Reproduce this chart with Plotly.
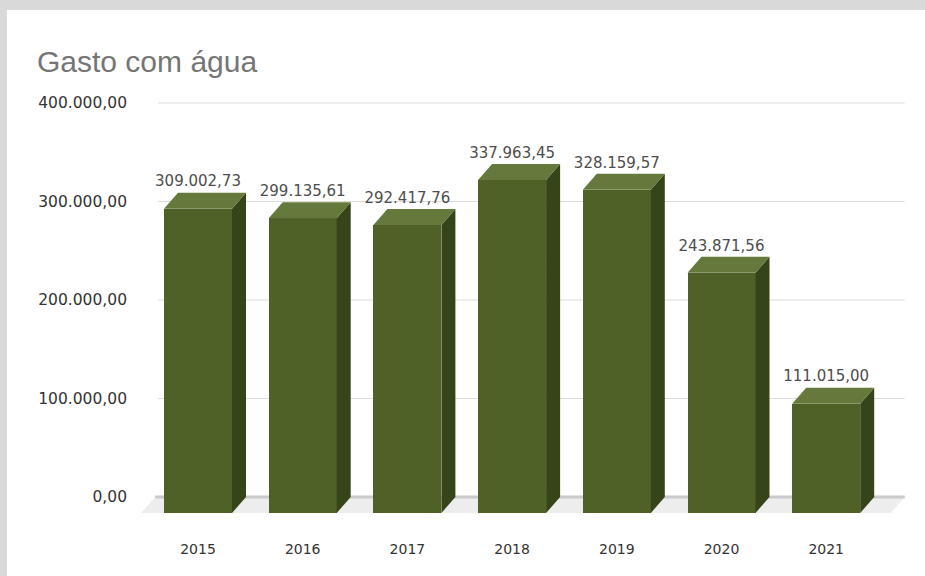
import plotly.graph_objects as go

# ---------------- data ----------------
years = ["2015", "2016", "2017", "2018", "2019", "2020", "2021"]
values = [309002.73, 299135.61, 292417.76, 337963.45, 328159.57, 243871.56, 111015.00]
value_labels = ["309.002,73", "299.135,61", "292.417,76", "337.963,45",
                "328.159,57", "243.871,56", "111.015,00"]
y_ticks = [0, 100000, 200000, 300000, 400000]
y_tick_labels = ["0,00", "100.000,00", "200.000,00", "300.000,00", "400.000,00"]

# ---------------- styling / geometry ----------------
W, H = 925, 576
ML, MR, MT = 138, 18, 90
PLOT_BOTTOM_PX = 535
MB = H - PLOT_BOTTOM_PX
PX_CAT = 104.7          # pixels per category
X0_PX = 198             # pixel centre of first category (front face)
PX_VAL = 0.000985       # pixels per value unit
Y0_PX = 497             # pixel of value 0 on back plane

plot_w = W - ML - MR
plot_h = H - MT - MB
x_range = [(ML - X0_PX) / PX_CAT, (W - MR - X0_PX) / PX_CAT]
y_range = [(Y0_PX - PLOT_BOTTOM_PX) / PX_VAL, (Y0_PX - MT) / PX_VAL]

DX = 14 / PX_CAT        # depth offset in category units
DY = 16 / PX_VAL        # depth offset in value units
BW = 68 / PX_CAT        # bar width
LBL_OFF = 10 / PX_VAL

FRONT = "#4f6127"
TOP = "#66793d"
SIDE = "#36441a"
PAGE_GREY = "#d9d9d9"


def px_x(p):  # pixel -> paper x
    return (p - ML) / plot_w


def px_y(p):  # pixel -> paper y
    return (PLOT_BOTTOM_PX - p) / plot_h


xs = list(range(len(years)))

fig = go.Figure()

# front faces
fig.add_trace(go.Bar(
    x=xs, y=values, base=[-DY] * len(values), width=BW,
    marker=dict(color=FRONT, line=dict(width=0)),
    hoverinfo="skip", showlegend=False,
))

# side and top faces
side_x, side_y, top_x, top_y = [], [], [], []
for i, v in zip(xs, values):
    r = i + BW / 2
    l = i - BW / 2
    side_x += [r, r + DX, r + DX, r, r, None]
    side_y += [-DY, 0, v, v - DY, -DY, None]
    top_x += [l, r, r + DX, l + DX, l, None]
    top_y += [v - DY, v - DY, v, v, v - DY, None]

fig.add_trace(go.Scatter(x=side_x, y=side_y, mode="lines", fill="toself",
                         fillcolor=SIDE, line=dict(width=0, color=SIDE),
                         hoverinfo="skip", showlegend=False))
fig.add_trace(go.Scatter(x=top_x, y=top_y, mode="lines", fill="toself",
                         fillcolor=TOP, line=dict(width=0, color=TOP),
                         hoverinfo="skip", showlegend=False))

# value labels
fig.add_trace(go.Scatter(
    x=xs, y=[v + LBL_OFF for v in values], mode="text", text=value_labels,
    textposition="middle center",
    textfont=dict(family="DejaVu Sans", size=15, color="#4d4d4d"),
    hoverinfo="skip", showlegend=False,
))

shapes = []
# grey page strips (top and left), kept inside the figure bounds
shapes.append(dict(type="rect", xref="paper", yref="paper", layer="below",
                   x0=px_x(0), x1=px_x(W), y0=px_y(10), y1=px_y(0),
                   fillcolor=PAGE_GREY, line=dict(width=0)))
shapes.append(dict(type="rect", xref="paper", yref="paper", layer="below",
                   x0=px_x(0), x1=px_x(7), y0=px_y(H), y1=px_y(0),
                   fillcolor=PAGE_GREY, line=dict(width=0)))
# floor
gx0, gx1 = -0.41, 6.75
shapes.append(dict(type="path", xref="x", yref="y", layer="below",
                   path=f"M {gx0},0 L {gx1},0 L {gx1 - DX},{-DY} L {gx0 - DX},{-DY} Z",
                   fillcolor="#ededed", line=dict(width=0)))
# grid lines (back plane)
for t in y_ticks:
    shapes.append(dict(type="line", xref="x", yref="y", layer="below",
                       x0=-0.38 if t else gx0, x1=gx1, y0=t, y1=t,
                       line=dict(color="#cacaca" if t == 0 else "#dcdcdc",
                                 width=3 if t == 0 else 1)))

fig.update_layout(
    width=W, height=H,
    margin=dict(l=ML, r=MR, t=MT, b=MB, pad=0),
    paper_bgcolor="white",
    plot_bgcolor="rgba(0,0,0,0)",
    shapes=shapes,
    bargap=0,
    title=dict(text="Gasto com água", xref="container", yref="container",
               x=37 / W, y=1 - 61 / H, xanchor="left", yanchor="middle",
               font=dict(family="Liberation Sans", size=30, color="#757575")),
    xaxis=dict(range=x_range, tickvals=xs, ticktext=years, showgrid=False,
               zeroline=False, showline=False, ticks="", ticklabelstandoff=4,
               tickfont=dict(family="DejaVu Sans", size=14, color="#333333")),
    yaxis=dict(range=y_range, tickvals=y_ticks, ticktext=y_tick_labels,
               showgrid=False, zeroline=False, showline=False, ticks="",
               ticklabelstandoff=10,
               tickfont=dict(family="DejaVu Sans", size=15.5, color="#333333")),
)

fig.write_html(
    "out.html",
    config={"displayModeBar": False},
    post_script=("document.documentElement.style.overflow='hidden';"
                 "document.body.style.overflow='hidden';"
                 "document.body.style.margin='0';"),
)
